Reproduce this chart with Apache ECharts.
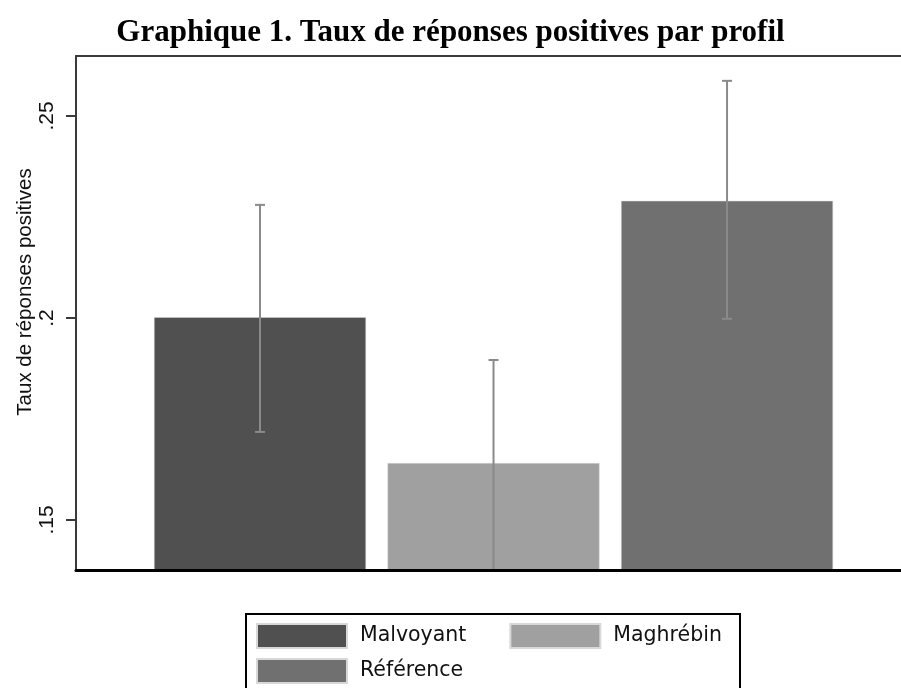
<!DOCTYPE html>
<html>
<head>
<meta charset="utf-8">
<script src="https://cdn.jsdelivr.net/npm/echarts@6/dist/echarts.min.js"></script>
<style>
html,body{margin:0;padding:0;background:#fff;}
#chart{width:901px;height:688px;}
</style>
</head>
<body>
<div id="chart"></div>
<script>
// ---- data ----
const categories = ['Malvoyant', 'Maghrébin', 'Référence'];
const means = [0.2002, 0.1641, 0.2290];
const ciLow = [0.1718, 0.1370, 0.1998];
const ciHigh = [0.2280, 0.1896, 0.2587];
const yTicks = [0.15, 0.2, 0.25];
const yTickLabels = ['.15', '.2', '.25'];
const titleText = 'Graphique 1. Taux de réponses positives par profil';
const yAxisTitle = 'Taux de réponses positives';

// ---- style ----
const colors = ['#505050', '#a0a0a0', '#707070'];
const xMin = 0.212, xMax = 3.745;
const yMin = 0.13762, yMax = 0.26485;

const chart = echarts.init(document.getElementById('chart'), null, {renderer: 'canvas'});

const barSeries = categories.map((name, i) => ({
  name: name,
  type: 'bar',
  xAxisIndex: 0,
  data: [[i + 1, means[i]]],
  barWidth: 212,
  barGap: '-100%',
  itemStyle: {color: colors[i], borderColor: '#d8d8d8', borderWidth: 0.5},
  clip: true,
  z: 2
}));

const errData = categories.map((c, i) => [i + 1, ciLow[i], ciHigh[i]]);

const legendRich = {
  a: {padding: [0, 34, 0, 8], lineHeight: 24, height: 24, fontFamily: 'DejaVu Sans', fontSize: 20.5, color: '#111'}
};

const option = {
  animation: false,
  backgroundColor: '#fff',
  color: colors,
  title: {
    text: titleText,
    left: 'center',
    top: 12,
    textStyle: {fontFamily: 'Liberation Serif', fontWeight: 'bold', fontSize: 31, color: '#000'}
  },
  grid: {
    left: 76, right: 0, top: 56, bottom: 118,
    show: false
  },
  legend: {
    data: categories,
    left: 256, top: 623,
    width: 560,
    itemWidth: 90, itemHeight: 24, itemGap: 9,
    icon: 'rect',
    padding: 0,
    formatter: '{a|{name}}',
    textStyle: {fontFamily: 'DejaVu Sans', fontSize: 20.5, color: '#111', rich: legendRich}
  },
  graphic: [{
    type: 'rect',
    shape: {x: 246, y: 614, width: 494, height: 120},
    style: {fill: 'none', stroke: '#000', lineWidth: 2},
    silent: true
  }],
  xAxis: [{
    type: 'value',
    position: 'bottom',
    min: xMin, max: xMax,
    axisLine: {show: true, onZero: false, lineStyle: {color: '#000', width: 3}},
    axisTick: {show: false},
    axisLabel: {show: false},
    splitLine: {show: false},
    z: 10
  }, {
    type: 'value',
    position: 'top',
    min: xMin, max: xMax,
    axisLine: {show: true, onZero: false, lineStyle: {color: '#3a3a3a', width: 2}},
    axisTick: {show: false},
    axisLabel: {show: false},
    splitLine: {show: false}
  }],
  yAxis: {
    type: 'value',
    min: yMin, max: yMax,
    name: yAxisTitle,
    nameLocation: 'middle',
    nameRotate: 90,
    nameGap: 40,
    nameMoveOverlap: false,
    nameTextStyle: {fontFamily: 'Liberation Sans', fontSize: 20.5, color: '#111', padding: [0, 0, 0, 42]},
    axisLine: {show: true, onZero: false, lineStyle: {color: '#3a3a3a', width: 2}},
    axisTick: {show: true, length: 10, customValues: yTicks, lineStyle: {color: '#3a3a3a', width: 2}},
    axisLabel: {
      show: true, rotate: 90, margin: 18, customValues: yTicks,
      fontFamily: 'Liberation Sans', fontSize: 21, color: '#111',
      formatter: function (v) {
        const idx = yTicks.findIndex(t => Math.abs(t - v) < 1e-9);
        return idx >= 0 ? yTickLabels[idx] : '';
      }
    },
    splitLine: {show: false}
  },
  series: barSeries.concat([{
    type: 'custom',
    name: 'ci',
    xAxisIndex: 0,
    data: errData,
    encode: {x: 0, y: [1, 2]},
    clip: true,
    z: 5,
    renderItem: function (params, api) {
      const x = api.value(0);
      const lo = api.coord([x, api.value(1)]);
      const hi = api.coord([x, api.value(2)]);
      const cap = 5;
      const style = {stroke: '#8a8a8a', lineWidth: 2, fill: 'none'};
      return {
        type: 'group',
        children: [
          {type: 'line', shape: {x1: hi[0], y1: hi[1], x2: lo[0], y2: lo[1]}, style: style},
          {type: 'line', shape: {x1: hi[0] - cap, y1: hi[1], x2: hi[0] + cap, y2: hi[1]}, style: style},
          {type: 'line', shape: {x1: lo[0] - cap, y1: lo[1], x2: lo[0] + cap, y2: lo[1]}, style: style}
        ]
      };
    }
  }])
};

chart.setOption(option);
</script>
</body>
</html>
